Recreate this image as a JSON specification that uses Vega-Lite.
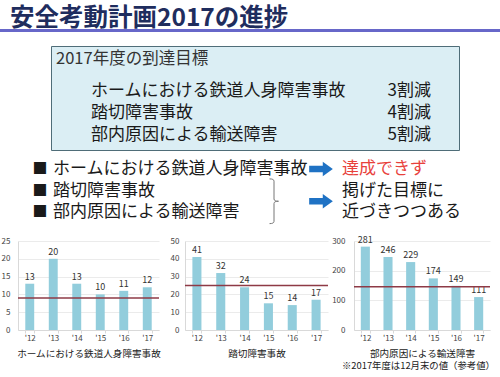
{
  "$schema": "https://vega.github.io/schema/vega-lite/v6.json",
  "padding": {"top": 5, "left": 0, "right": 0, "bottom": 0},
  "background": "white",
  "title": {"text": "安全考動計画2017の進捗", "anchor": "start", "fontSize": 24.5, "fontWeight": "bold", "color": "#1F2D5E", "dx": 10, "dy": 1, "offset": -5.5, "font": "Noto Sans CJK JP"},
  "config": {
    "view": {"stroke": null},
    "font": "Noto Sans CJK JP",
    "axisY": {"labelFontSize": 8, "labelColor": "#444444", "ticks": false, "domainColor": "#D9D9D9", "gridColor": "#EBEBEB", "labelPadding": 6, "labelOverlap": false, "title": null},
    "axisX": {"labelFontSize": 8, "labelColor": "#444444", "labelAngle": 0, "domainColor": "#D9D9D9", "tickColor": "#D9D9D9", "tickSize": 3, "tickBand": "extent", "labelPadding": 1, "titleFontSize": 9.6, "titleFontWeight": "normal", "titleColor": "#222222", "titlePadding": 6}
  },
  "columns": 1,
  "align": "none",
  "concat": [
    {"width": 500, "height": 3, "data": {"values": [{}]}, "mark": "text", "view": {"fill": "#6767C9", "stroke": null}},
    {
      "hconcat": [
        {"width": 50, "height": 104, "data": {"values": [{}]}, "mark": "text"},
        {
          "width": 408, "height": 104,
          "view": {"fill": "#DBEEF4", "stroke": "#4F6D78", "strokeWidth": 1},
          "layer": [
            {"data": {"values": [{"見出し": "2017年度の到達目標"}]}, "mark": {"type": "text", "align": "left", "baseline": "middle", "fontSize": 16.5, "color": "#333333"}, "encoding": {"text": {"field": "見出し"}, "x": {"value": 5}, "y": {"value": 13}}},
            {
              "data": {"values": [
                {"項目": "ホームにおける鉄道人身障害事故", "目標": "3割減"},
                {"項目": "踏切障害事故", "目標": "4割減"},
                {"項目": "部内原因による輸送障害", "目標": "5割減"}
              ]},
              "encoding": {"y": {"field": "項目", "type": "nominal", "sort": null, "scale": {"type": "point", "range": [45, 89], "padding": 0}, "axis": null}},
              "layer": [
                {"mark": {"type": "text", "align": "left", "fontSize": 17, "color": "#1A1A1A"}, "encoding": {"text": {"field": "項目"}, "x": {"value": 40}}},
                {"mark": {"type": "text", "align": "right", "fontSize": 17, "color": "#1A1A1A"}, "encoding": {"text": {"field": "目標"}, "x": {"value": 380}}}
              ]
            }
          ]
        }
      ],
      "spacing": 0
    },
    {
      "width": 500, "height": 62,
      "encoding": {"y": {"field": "行", "type": "quantitative", "scale": {"domain": [1, 3], "range": [9, 52]}, "axis": null}},
      "layer": [
        {
          "data": {"values": [
            {"項目": "ホームにおける鉄道人身障害事故", "行": 1},
            {"項目": "踏切障害事故", "行": 2},
            {"項目": "部内原因による輸送障害", "行": 3}
          ]},
          "layer": [
            {"mark": {"type": "text", "text": "■", "align": "center", "fontSize": 15, "color": "#1A1A1A"}, "encoding": {"x": {"value": 40}}},
            {"mark": {"type": "text", "align": "left", "fontSize": 17, "color": "#1A1A1A"}, "encoding": {"x": {"value": 53}, "text": {"field": "項目"}}}
          ]
        },
        {
          "data": {"values": [
            {"対象": "ホームにおける鉄道人身障害事故", "行": 1},
            {"対象": "踏切障害事故・部内原因による輸送障害", "行": 2.5}
          ]},
          "layer": [
            {"mark": {"type": "point", "shape": "M-1,-0.27 L0.15,-0.27 L0.15,-0.62 L1,0 L0.15,0.62 L0.15,0.27 L-1,0.27 Z", "size": 560, "filled": true, "color": "#1F72C4", "opacity": 1}, "encoding": {"x": {"value": 321}}},
            {"transform": [{"filter": "datum['行'] > 2"}], "mark": {"type": "point", "shape": "M-0.2,-1 Q0,-1 0,-0.9 L0,-0.1 Q0,0 0.2,0 Q0,0 0,0.1 L0,0.9 Q0,1 -0.2,1", "size": 2000, "filled": false, "color": "#777777", "strokeWidth": 1, "opacity": 1}, "encoding": {"x": {"value": 274}}}
          ]
        },
        {
          "data": {"values": [
            {"結論": "達成できず", "行": 1, "判定": "未達成"},
            {"結論": "掲げた目標に", "行": 2, "判定": "接近"},
            {"結論": "近づきつつある", "行": 3, "判定": "接近"}
          ]},
          "mark": {"type": "text", "align": "left", "fontSize": 17},
          "encoding": {"x": {"value": 342}, "text": {"field": "結論"}, "color": {"field": "判定", "type": "nominal", "scale": {"domain": ["未達成", "接近"], "range": ["#E8413C", "#1A1A1A"]}, "legend": null}}
        }
      ]
    },
    {
      "hconcat": [
        {"width": 1, "height": 89, "data": {"values": [{}]}, "mark": "text"},
        {
          "hconcat": [
            {
              "hconcat": [
                {
                  "width": 141, "height": 89,
                  "data": {"values": [
                    {"年度": "'12", "件数": 13}, {"年度": "'13", "件数": 20}, {"年度": "'14", "件数": 13},
                    {"年度": "'15", "件数": 10}, {"年度": "'16", "件数": 11}, {"年度": "'17", "件数": 12}
                  ]},
                  "resolve": {"axis": {"x": "independent", "y": "independent"}},
                  "encoding": {
                    "x": {"field": "年度", "type": "ordinal", "sort": null, "scale": {"paddingInner": 0.62, "paddingOuter": 0.31}, "axis": {"title": "ホームにおける鉄道人身障害事故"}},
                    "y": {"field": "件数", "type": "quantitative", "scale": {"domain": [0, 25]}, "axis": {"values": [0, 5, 10, 15, 20, 25], "title": null, "labelPadding": 8, "labelOverlap": false}}
                  },
                  "layer": [
                    {"mark": {"type": "bar", "color": "#92CDDC"}},
                    {"mark": {"type": "text", "dy": -7, "fontSize": 9, "color": "#333333"}, "encoding": {"x": {"field": "年度", "type": "ordinal", "sort": null, "axis": null}, "y": {"field": "件数", "type": "quantitative", "axis": null}, "text": {"field": "件数"}}},
                    {"data": {"values": [{"目標": 9, "注記": "目標：9件以下"}]}, "layer": [
                      {"mark": {"type": "rule", "color": "#8E3A46", "strokeWidth": 1.5}, "encoding": {"x": null, "y": {"field": "目標", "type": "quantitative", "axis": null}}},
                      {"mark": {"type": "text", "align": "right", "fontSize": 8, "color": "#D9463F", "dx": 14, "dy": 3}, "encoding": {"x": {"datum": "'17", "axis": null}, "y": {"datum": 25, "axis": null}, "text": {"field": "注記"}}}
                    ]}
                  ]
                },
                {
                  "width": 143, "height": 89,
                  "data": {"values": [
                    {"年度": "'12", "件数": 41}, {"年度": "'13", "件数": 32}, {"年度": "'14", "件数": 24},
                    {"年度": "'15", "件数": 15}, {"年度": "'16", "件数": 14}, {"年度": "'17", "件数": 17}
                  ]},
                  "resolve": {"axis": {"x": "independent", "y": "independent"}},
                  "encoding": {
                    "x": {"field": "年度", "type": "ordinal", "sort": null, "scale": {"paddingInner": 0.62, "paddingOuter": 0.31}, "axis": {"title": "踏切障害事故"}},
                    "y": {"field": "件数", "type": "quantitative", "scale": {"domain": [0, 50]}, "axis": {"values": [0, 10, 20, 30, 40, 50], "title": null, "labelOverlap": false}}
                  },
                  "layer": [
                    {"mark": {"type": "bar", "color": "#92CDDC"}},
                    {"mark": {"type": "text", "dy": -7, "fontSize": 9, "color": "#333333"}, "encoding": {"x": {"field": "年度", "type": "ordinal", "sort": null, "axis": null}, "y": {"field": "件数", "type": "quantitative", "axis": null}, "text": {"field": "件数"}}},
                    {"data": {"values": [{"目標": 25, "注記": "目標：２５件以下"}]}, "layer": [
                      {"mark": {"type": "rule", "color": "#8E3A46", "strokeWidth": 1.5}, "encoding": {"x": null, "y": {"field": "目標", "type": "quantitative", "axis": null}}},
                      {"mark": {"type": "text", "align": "right", "fontSize": 8, "color": "#D9463F", "dx": 13, "dy": 3}, "encoding": {"x": {"datum": "'17", "axis": null}, "y": {"datum": 50, "axis": null}, "text": {"field": "注記"}}}
                    ]}
                  ]
                }
              ],
              "spacing": 9
            },
            {
              "width": 136, "height": 89,
              "title": {"text": "※2017年度は12月末の値（参考値）", "orient": "bottom", "anchor": "end", "frame": "group", "fontSize": 9.4, "fontWeight": "normal", "color": "#222222", "offset": 4, "dx": 5},
              "data": {"values": [
                {"年度": "'12", "件数": 281}, {"年度": "'13", "件数": 246}, {"年度": "'14", "件数": 229},
                {"年度": "'15", "件数": 174}, {"年度": "'16", "件数": 149}, {"年度": "'17", "件数": 111}
              ]},
              "resolve": {"axis": {"x": "independent", "y": "independent"}},
              "encoding": {
                "x": {"field": "年度", "type": "ordinal", "sort": null, "scale": {"paddingInner": 0.6, "paddingOuter": 0.3}, "axis": {"title": "部内原因による輸送障害"}},
                "y": {"field": "件数", "type": "quantitative", "scale": {"domain": [0, 300]}, "axis": {"values": [0, 100, 200, 300], "title": null, "labelPadding": 9, "labelOverlap": false}}
              },
              "layer": [
                {"mark": {"type": "bar", "color": "#92CDDC"}},
                {"mark": {"type": "text", "dy": -7, "fontSize": 9, "color": "#333333"}, "encoding": {"x": {"field": "年度", "type": "ordinal", "sort": null, "axis": null}, "y": {"field": "件数", "type": "quantitative", "axis": null}, "text": {"field": "件数"}}},
                {"data": {"values": [{"目標": 146, "注記": "目標：１４０件以下"}]}, "layer": [
                  {"mark": {"type": "rule", "color": "#8E3A46", "strokeWidth": 1.5}, "encoding": {"x": null, "y": {"field": "目標", "type": "quantitative", "axis": null}}},
                  {"mark": {"type": "text", "align": "right", "fontSize": 8, "color": "#D9463F", "dx": 13, "dy": 4}, "encoding": {"x": {"datum": "'17", "axis": null}, "y": {"datum": 300, "axis": null}, "text": {"field": "注記"}}}
                ]}
              ]
            }
          ],
          "spacing": 2
        }
      ],
      "spacing": 0
    }
  ],
  "spacing": 9
}
